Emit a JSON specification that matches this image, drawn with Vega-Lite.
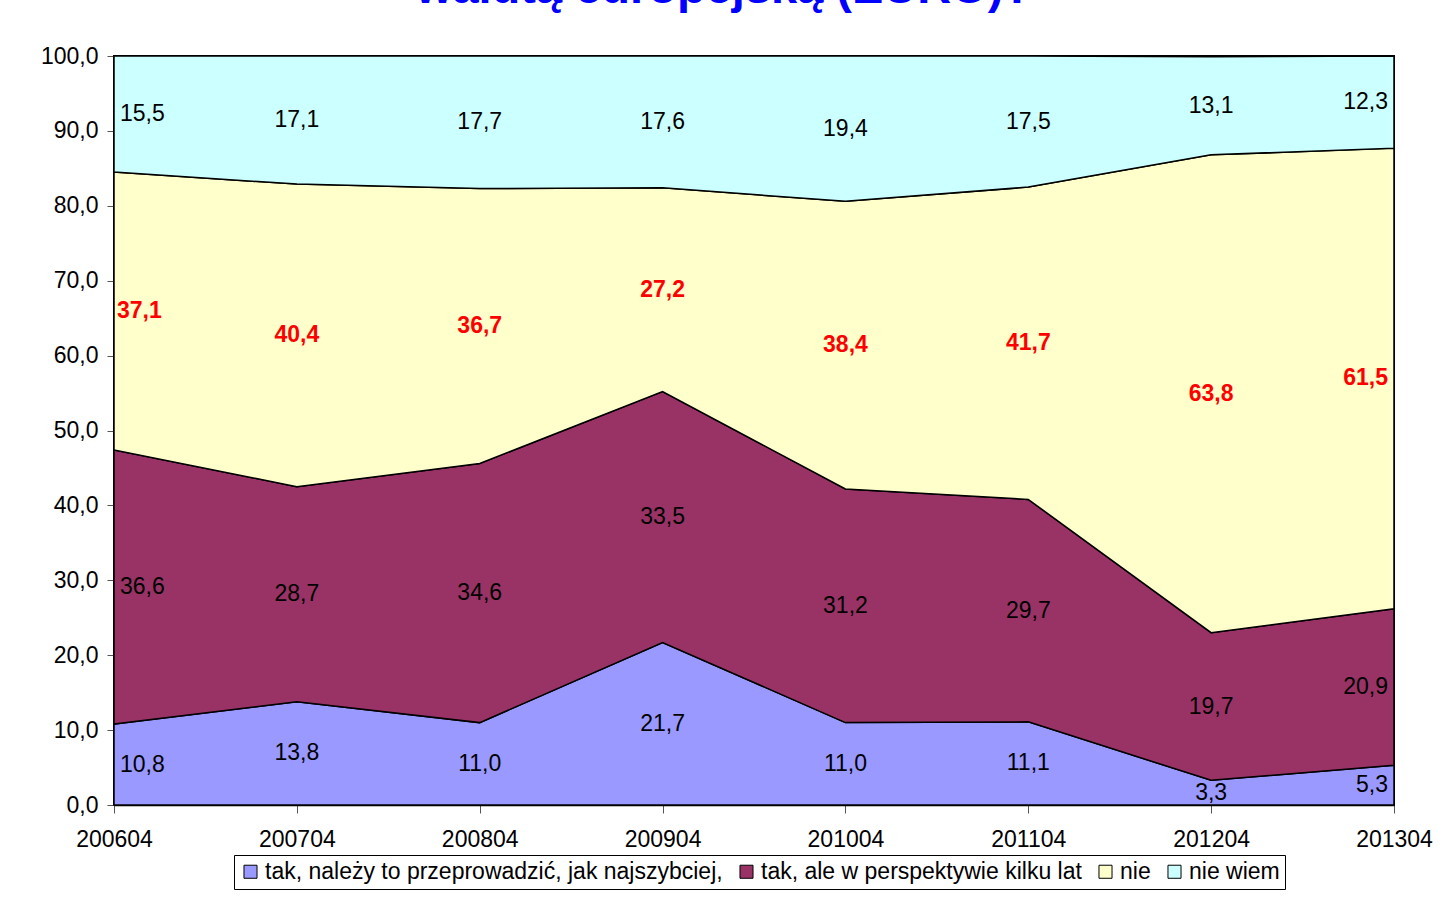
{
  "$schema": "https://vega.github.io/schema/vega-lite/v6.json",
  "autosize": {"type": "none"},
  "padding": {"left": 114, "top": 56, "right": 44, "bottom": 97},
  "width": 1280,
  "height": 749,
  "background": "white",
  "title": {
    "text": "walutą europejską (EURO)?",
    "color": "#0000FF",
    "font": "Liberation Sans",
    "fontSize": 47,
    "fontWeight": "bold",
    "anchor": "middle",
    "frame": "group",
    "baseline": "bottom",
    "offset": 0,
    "dy": 15,
    "dx": -30
  },
  "config": {
    "font": "Liberation Sans",
    "view": {"stroke": "black", "strokeWidth": 2},
    "axis": {"grid": false, "labelFont": "Liberation Sans", "labelFontSize": 23, "labelColor": "black", "domainColor": "black", "domainWidth": 1.5, "tickColor": "#555555", "title": null}
  },
  "data": {
    "values": [
      {"d": "200604", "s": "tak, należy to przeprowadzić, jak najszybciej,", "k": 1, "v": 10.8},
      {"d": "200604", "s": "tak, ale w perspektywie kilku lat", "k": 2, "v": 36.6},
      {"d": "200604", "s": "nie", "k": 3, "v": 37.1},
      {"d": "200604", "s": "nie wiem", "k": 4, "v": 15.5},
      {"d": "200704", "s": "tak, należy to przeprowadzić, jak najszybciej,", "k": 1, "v": 13.8},
      {"d": "200704", "s": "tak, ale w perspektywie kilku lat", "k": 2, "v": 28.7},
      {"d": "200704", "s": "nie", "k": 3, "v": 40.4},
      {"d": "200704", "s": "nie wiem", "k": 4, "v": 17.1},
      {"d": "200804", "s": "tak, należy to przeprowadzić, jak najszybciej,", "k": 1, "v": 11.0},
      {"d": "200804", "s": "tak, ale w perspektywie kilku lat", "k": 2, "v": 34.6},
      {"d": "200804", "s": "nie", "k": 3, "v": 36.7},
      {"d": "200804", "s": "nie wiem", "k": 4, "v": 17.7},
      {"d": "200904", "s": "tak, należy to przeprowadzić, jak najszybciej,", "k": 1, "v": 21.7},
      {"d": "200904", "s": "tak, ale w perspektywie kilku lat", "k": 2, "v": 33.5},
      {"d": "200904", "s": "nie", "k": 3, "v": 27.2},
      {"d": "200904", "s": "nie wiem", "k": 4, "v": 17.6},
      {"d": "201004", "s": "tak, należy to przeprowadzić, jak najszybciej,", "k": 1, "v": 11.0},
      {"d": "201004", "s": "tak, ale w perspektywie kilku lat", "k": 2, "v": 31.2},
      {"d": "201004", "s": "nie", "k": 3, "v": 38.4},
      {"d": "201004", "s": "nie wiem", "k": 4, "v": 19.4},
      {"d": "201104", "s": "tak, należy to przeprowadzić, jak najszybciej,", "k": 1, "v": 11.1},
      {"d": "201104", "s": "tak, ale w perspektywie kilku lat", "k": 2, "v": 29.7},
      {"d": "201104", "s": "nie", "k": 3, "v": 41.7},
      {"d": "201104", "s": "nie wiem", "k": 4, "v": 17.5},
      {"d": "201204", "s": "tak, należy to przeprowadzić, jak najszybciej,", "k": 1, "v": 3.3},
      {"d": "201204", "s": "tak, ale w perspektywie kilku lat", "k": 2, "v": 19.7},
      {"d": "201204", "s": "nie", "k": 3, "v": 63.8},
      {"d": "201204", "s": "nie wiem", "k": 4, "v": 13.1},
      {"d": "201304", "s": "tak, należy to przeprowadzić, jak najszybciej,", "k": 1, "v": 5.3},
      {"d": "201304", "s": "tak, ale w perspektywie kilku lat", "k": 2, "v": 20.9},
      {"d": "201304", "s": "nie", "k": 3, "v": 61.5},
      {"d": "201304", "s": "nie wiem", "k": 4, "v": 12.3}
    ]
  },
  "encoding": {
    "x": {
      "field": "d", "type": "ordinal",
      "scale": {"type": "point", "padding": 0},
      "axis": {"labelAngle": 0, "tickSize": 8, "labelPadding": 15}
    }
  },
  "layer": [
    {
      "mark": {"type": "area", "stroke": "black", "strokeWidth": 1.5, "opacity": 1},
      "encoding": {
        "y": {
          "field": "v", "type": "quantitative", "stack": "zero",
          "scale": {"domain": [0, 100], "nice": false},
          "axis": {"values": [0, 10, 20, 30, 40, 50, 60, 70, 80, 90, 100], "tickSize": 7, "labelPadding": 9, "labelExpr": "replace(format(datum.value, '.1f'), '.', ',')"}
        },
        "color": {
          "field": "s", "type": "nominal",
          "scale": {
            "domain": ["tak, należy to przeprowadzić, jak najszybciej,", "tak, ale w perspektywie kilku lat", "nie", "nie wiem"],
            "range": ["#9999FF", "#993366", "#FFFFCC", "#CCFFFF"]
          },
          "legend": {
            "orient": "none", "legendX": 120, "legendY": 799,
            "direction": "horizontal", "columns": 4, "title": null,
            "symbolType": "square", "symbolSize": 170, "symbolStrokeColor": "black", "symbolStrokeWidth": 1,
            "symbolOpacity": 1,
            "labelFont": "Liberation Sans", "labelFontSize": 23, "labelColor": "black", "labelOffset": 3,
            "columnPadding": 12, "strokeColor": "black", "padding": 5, "fillColor": "white", "labelLimit": 700
          }
        },
        "order": {"field": "k", "type": "quantitative"}
      }
    },
    {
      "transform": [
        {"stack": "v", "groupby": ["d"], "sort": [{"field": "k", "order": "ascending"}], "as": ["y0", "y1"]},
        {"calculate": "(datum.y0 + datum.y1) / 2", "as": "mid"},
        {"calculate": "replace(format(datum.v, '.1f'), '.', ',')", "as": "lab"}
      ],
      "encoding": {
        "y": {"field": "mid", "type": "quantitative"},
        "text": {"field": "lab", "type": "nominal"}
      },
      "layer": [
        {
          "transform": [{"filter": "datum.d == '200604' && datum.s != 'nie'"}],
          "mark": {"type": "text", "align": "left", "dx": 6, "baseline": "middle", "fontSize": 23, "color": "black"}
        },
        {
          "transform": [{"filter": "datum.d == '200604' && datum.s == 'nie'"}],
          "mark": {"type": "text", "align": "left", "dx": 3, "baseline": "middle", "fontSize": 23, "fontWeight": "bold", "color": "#FF0000"}
        },
        {
          "transform": [{"filter": "datum.d != '200604' && datum.d != '201304' && datum.s != 'nie'"}],
          "mark": {"type": "text", "align": "center", "baseline": "middle", "fontSize": 23, "color": "black"}
        },
        {
          "transform": [{"filter": "datum.d != '200604' && datum.d != '201304' && datum.s == 'nie'"}],
          "mark": {"type": "text", "align": "center", "baseline": "middle", "fontSize": 23, "fontWeight": "bold", "color": "#FF0000"}
        },
        {
          "transform": [{"filter": "datum.d == '201304' && datum.s != 'nie'"}],
          "mark": {"type": "text", "align": "right", "dx": -6, "baseline": "middle", "fontSize": 23, "color": "black"}
        },
        {
          "transform": [{"filter": "datum.d == '201304' && datum.s == 'nie'"}],
          "mark": {"type": "text", "align": "right", "dx": -6, "baseline": "middle", "fontSize": 23, "fontWeight": "bold", "color": "#FF0000"}
        }
      ]
    }
  ]
}
